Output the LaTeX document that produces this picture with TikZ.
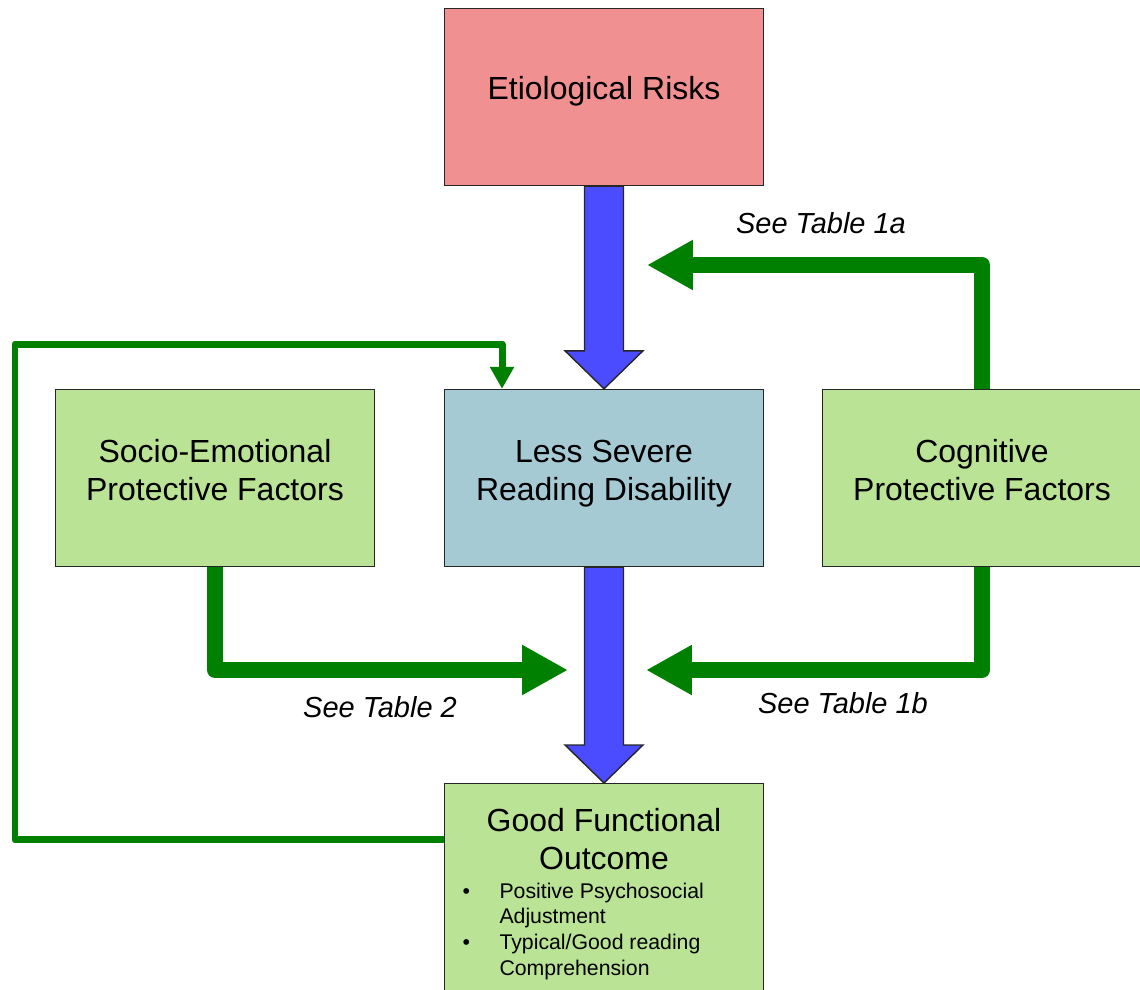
\documentclass[tikz,border=0pt]{standalone}
\usepackage{fontspec}
\setmainfont{Liberation Sans}
\usetikzlibrary{arrows.meta,calc}
\definecolor{riskpink}{RGB}{240,144,144}
\definecolor{readblue}{RGB}{166,202,212}
\definecolor{protgreen}{RGB}{187,227,150}
\definecolor{arrowblue}{RGB}{75,75,255}
\definecolor{linegreen}{RGB}{0,128,0}

\begin{document}
\begin{tikzpicture}[x=0.02cm,y=-0.02cm,
    box/.style={draw=black!85,line width=0.8pt,minimum width=6.38cm,minimum height=3.54cm,
      align=center,inner sep=0pt,font=\fontsize{18.2}{21.6}\selectfont},
    twoline/.style={text depth=0.32cm},
    blockarrow/.style={draw=black!85,line width=0.8pt,fill=arrowblue,
      to path={let \p1=(\tikztostart),\p2=(\tikztotarget) in
        (\x1-0.39cm,\y1) -- (\x2-0.39cm,\y2+0.76cm) -- (\x2-0.78cm,\y2+0.76cm) -- (\x2,\y2)
        -- (\x2+0.78cm,\y2+0.76cm) -- (\x2+0.39cm,\y2+0.76cm) -- (\x1+0.39cm,\y1) -- cycle}},
    greenarrow/.style={draw=linegreen,line width=0.32cm,line join=round,
      -{Triangle[width=0.94cm,length=0.92cm]}},
    thinarrow/.style={draw=linegreen,line width=0.14cm,line join=round,
      -{Triangle[width=0.46cm,length=0.44cm]}},
    tablelabel/.style={font=\fontsize{16.5}{20}\selectfont\itshape}]
  \useasboundingbox (0,0) rectangle (1140,990);

  \node[box,fill=riskpink,text depth=0.35cm] (risk) at (604,97) {Etiological Risks};
  \node[box,twoline,fill=readblue] (rd) at (604,478) {Less Severe\\Reading Disability};
  \node[box,twoline,fill=protgreen] (socio) at (215,478) {Socio-Emotional\\Protective Factors};
  \node[box,twoline,fill=protgreen] (cog) at (982,478) {Cognitive\\Protective Factors};
  \node[box,fill=protgreen,anchor=north,inner ysep=0.49cm] (good) at (604,783) {%
    \begin{minipage}[t]{6.38cm}
      \centering Good Functional\\Outcome\par
      \vspace{1.8pt}
      {\fontsize{12.1}{14.6}\selectfont\raggedright
       \hspace*{0.36cm}\makebox[0.74cm][l]{\textbullet}Positive Psychosocial\\
       \hspace*{1.1cm}Adjustment\\
       \hspace*{0.36cm}\makebox[0.74cm][l]{\textbullet}Typical/Good reading\\
       \hspace*{1.1cm}Comprehension\par}
    \end{minipage}};

  \node[tablelabel] (lab1a) at (821,223) {See Table 1a};
  \node[tablelabel] (lab2) at (380,707) {See Table 2};
  \node[tablelabel] (lab1b) at (843,703) {See Table 1b};

  \coordinate (tip1a) at (647,265);
  \coordinate (tip2) at (568,670);
  \coordinate (tip1b) at (646,670);
  \coordinate (loopcorner) at (15,344);

  \draw[blockarrow] (risk.south) to (rd.north);
  \draw[blockarrow] (rd.south) to (good.north);
  \draw[greenarrow] (cog.north) |- (tip1a);
  \draw[greenarrow] (socio.south) |- (tip2);
  \draw[greenarrow] (cog.south) |- (tip1b);
  \draw[thinarrow] ([yshift=-1.14cm]good.north west) -| (loopcorner) -| ([xshift=-2.04cm]rd.north);
\end{tikzpicture}
\end{document}
